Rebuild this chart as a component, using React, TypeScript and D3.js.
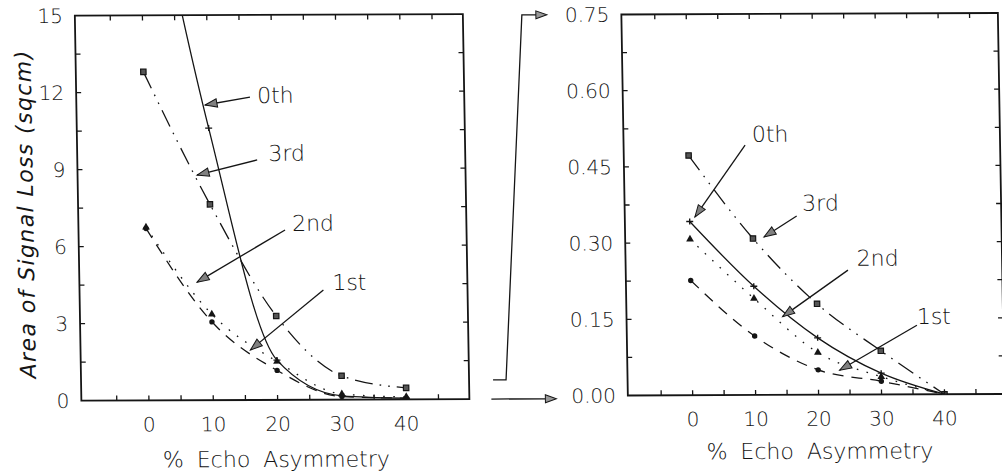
import React, { useEffect, useRef } from "react";
import * as d3 from "d3";

// % echo asymmetry at which every order was measured
const asymmetry = [0, 10, 20, 30, 40];

// left panel: area of signal loss (sqcm), full scale
const full0th = [23, 10.6, 1.55, 0.15, 0.05];
const full1st = [6.7, 3.05, 1.15, 0.12, 0.05];
const full2nd = [6.75, 3.35, 1.5, 0.22, 0.1];
const full3rd = [12.8, 7.63, 3.27, 0.93, 0.45];

// right panel: the 0 - 0.75 sqcm range blown up
const zoom0th = [0.342, 0.214, 0.112, 0.042, 0];
const zoom1st = [0.226, 0.116, 0.049, 0.026, 0];
const zoom2nd = [0.307, 0.19, 0.083, 0.035, 0];
const zoom3rd = [0.472, 0.308, 0.179, 0.086, 0];

const xTickLabels = [0, 10, 20, 30, 40];
const leftYLabels = [0, 3, 6, 9, 12, 15];
const rightYLabels = [0, 0.15, 0.3, 0.45, 0.6, 0.75];

// order labels with arrows, in data units of each panel
const leftNotes = [
  { label: "0th", tx: 17.6, ty: 11.88, x1: 16.5, y1: 11.8, x2: 9.5, y2: 11.5 },
  { label: "3rd", tx: 19.2, ty: 9.62, x1: 17.45, y1: 9.35, x2: 8.07, y2: 8.77 },
  { label: "2nd", tx: 22.7, ty: 6.89, x1: 21.6, y1: 6.62, x2: 7.8, y2: 4.6 },
  { label: "1st", tx: 28.8, ty: 4.58, x1: 27.4, y1: 4.27, x2: 15.9, y2: 1.95 },
];
const rightNotes = [
  { label: "0th", tx: 10.1, ty: 0.514, x1: 9.0, y1: 0.492, x2: 0.84, y2: 0.351 },
  { label: "3rd", tx: 17.9, ty: 0.378, x1: 17.0, y1: 0.352, x2: 11.75, y2: 0.311 },
  { label: "2nd", tx: 26.4, ty: 0.269, x1: 25.0, y1: 0.245, x2: 14.5, y2: 0.154 },
  { label: "1st", tx: 35.8, ty: 0.154, x1: 35.8, y1: 0.136, x2: 23.4, y2: 0.048 },
];

const ink = "#151515";
const FONT = "'DejaVu Sans', sans-serif";
const WEIGHT = 200;

const styles = {
  "0th": { dash: null, marker: "cross" },
  "1st": { dash: "11,8", marker: "circle" },
  "2nd": { dash: "1.6,8.5", marker: "triangle" },
  "3rd": { dash: "18,7,1.6,7,1.6,7", marker: "square" },
};

function arrowHead(x1, y1, x2, y2, len, hw) {
  const a = Math.atan2(y2 - y1, x2 - x1);
  const bx = x2 - len * Math.cos(a);
  const by = y2 - len * Math.sin(a);
  const px = -Math.sin(a) * hw;
  const py = Math.cos(a) * hw;
  return `M${x2},${y2}L${bx + px},${by + py}L${bx - px},${by - py}Z`;
}

function drawPanel(g, p) {
  const x = d3.scaleLinear().domain(p.xDomain).range([p.left, p.right]);
  const y = d3.scaleLinear().domain([0, p.yMax]).range([p.bottom, p.top]);

  g.append("clipPath")
    .attr("id", `clip-${p.id}`)
    .append("rect")
    .attr("x", p.left)
    .attr("y", p.top)
    .attr("width", p.right - p.left)
    .attr("height", p.bottom - p.top);

  // inward ticks on all four sides
  const tl = 5;
  const ticks = g.append("g").attr("stroke", ink).attr("stroke-width", 1.3);
  d3.range(-5, 46, 5).forEach((v) => {
    ticks.append("line").attr("x1", x(v)).attr("x2", x(v)).attr("y1", p.bottom).attr("y2", p.bottom - tl);
    ticks.append("line").attr("x1", x(v)).attr("x2", x(v)).attr("y1", p.top).attr("y2", p.top + tl);
  });
  d3.range(1, 10).forEach((i) => {
    const v = (i * p.yMax) / 10;
    ticks.append("line").attr("x1", p.left).attr("x2", p.left + tl).attr("y1", y(v)).attr("y2", y(v));
    ticks.append("line").attr("x1", p.right).attr("x2", p.right - tl).attr("y1", y(v)).attr("y2", y(v));
  });

  g.append("rect")
    .attr("x", p.left)
    .attr("y", p.top)
    .attr("width", p.right - p.left)
    .attr("height", p.bottom - p.top)
    .attr("fill", "none")
    .attr("stroke", ink)
    .attr("stroke-width", 1.8);

  // tick labels
  const txt = g.append("g").attr("font-family", FONT).attr("font-weight", WEIGHT).attr("fill", ink);
  p.yLabels.forEach((v) => {
    txt.append("text")
      .attr("x", p.left - 12)
      .attr("y", y(v))
      .attr("dy", "0.36em")
      .attr("text-anchor", "end")
      .attr("font-size", 20)
      .text(p.fmt(v));
  });
  xTickLabels.forEach((v) => {
    txt.append("text")
      .attr("x", x(v))
      .attr("y", p.bottom + 31)
      .attr("text-anchor", "middle")
      .attr("font-size", 20)
      .text(v);
  });
  txt.append("text")
    .attr("x", (p.left + p.right) / 2 + p.titleShift)
    .attr("y", p.bottom + p.titleGap)
    .attr("text-anchor", "middle")
    .attr("font-size", 22)
    .attr("word-spacing", 6)
    .text("% Echo Asymmetry");

  // fitted curves and points
  const plot = g.append("g").attr("clip-path", `url(#clip-${p.id})`);
  const line = d3
    .line()
    .x((d, i) => x(asymmetry[i]))
    .y((d) => y(d))
    .curve(d3.curveMonotoneX);

  p.series.forEach((s) => {
    const st = styles[s.name];
    plot.append("path")
      .datum(s.values)
      .attr("fill", "none")
      .attr("stroke", ink)
      .attr("stroke-width", 1.3)
      .attr("stroke-dasharray", st.dash)
      .attr("d", line);

    s.values.forEach((v, i) => {
      const cx = x(asymmetry[i]);
      const cy = y(v);
      if (st.marker === "square") {
        plot.append("rect").attr("x", cx - 2.7).attr("y", cy - 2.7).attr("width", 5.4).attr("height", 5.4)
          .attr("fill", "#555").attr("stroke", ink).attr("stroke-width", 1.2);
      } else if (st.marker === "circle") {
        plot.append("circle").attr("cx", cx).attr("cy", cy).attr("r", 2.7).attr("fill", ink);
      } else if (st.marker === "triangle") {
        plot.append("path")
          .attr("transform", `translate(${cx},${cy})`)
          .attr("d", d3.symbol(d3.symbolTriangle, 26)())
          .attr("fill", ink);
      } else {
        plot.append("path")
          .attr("d", `M${cx - 3.5},${cy}H${cx + 3.5}M${cx},${cy - 3}V${cy + 3}`)
          .attr("stroke", ink)
          .attr("stroke-width", 1.4);
      }
    });
  });

  // order labels
  p.notes.forEach((n) => {
    const ax1 = x(n.x1), ay1 = y(n.y1), ax2 = x(n.x2), ay2 = y(n.y2);
    g.append("line")
      .attr("x1", ax1).attr("y1", ay1).attr("x2", ax2).attr("y2", ay2)
      .attr("stroke", ink).attr("stroke-width", 1.3);
    g.append("path")
      .attr("d", arrowHead(ax1, ay1, ax2, ay2, 12, 4.2))
      .attr("fill", "#808080")
      .attr("stroke", ink)
      .attr("stroke-width", 1);
    g.append("text")
      .attr("x", x(n.tx))
      .attr("y", y(n.ty))
      .attr("dy", "0.36em")
      .attr("font-family", FONT)
      .attr("font-weight", WEIGHT)
      .attr("font-size", 22)
      .attr("fill", ink)
      .text(n.label);
  });

  return { x, y };
}

const EchoChart = () => {
  const svgRef = useRef(null);

  useEffect(() => {
    const svg = d3.select(svgRef.current);
    svg.selectAll("*").remove();
    svg.attr("width", 1002).attr("height", 474);

    // the scanned figure sits slightly askew
    const g = svg.append("g").attr("transform", "matrix(1,-0.004,0.017,1,-3.4,2)");

    const L = drawPanel(g, {
      id: "full",
      left: 78, right: 466, top: 14, bottom: 399,
      xDomain: [-10.5, 49.8],
      yMax: 15,
      yLabels: leftYLabels,
      fmt: d3.format("d"),
      titleShift: 0,
      titleGap: 67,
      notes: leftNotes,
      series: [
        { name: "1st", values: full1st },
        { name: "2nd", values: full2nd },
        { name: "3rd", values: full3rd },
        { name: "0th", values: full0th },
      ],
    });

    const R = drawPanel(g, {
      id: "zoom",
      left: 624.5, right: 1001, top: 15, bottom: 396,
      xDomain: [-10.3, 49.5],
      yMax: 0.75,
      yLabels: rightYLabels,
      fmt: d3.format(".2f"),
      titleShift: 3,
      titleGap: 64,
      notes: rightNotes,
      series: [
        { name: "1st", values: zoom1st },
        { name: "2nd", values: zoom2nd },
        { name: "3rd", values: zoom3rd },
        { name: "0th", values: zoom0th },
      ],
    });

    // bracket tying the 0 - 0.75 band of the left axis to the right panel
    const yTopL = L.y(0.75);
    const yTopR = R.y(0.75);
    const yZero = L.y(0);
    const conn = g.append("g").attr("stroke", ink).attr("stroke-width", 1.3).attr("fill", "none");
    conn.append("path").attr("d", `M490,${yTopL}H503L525,${yTopR}H540`);
    conn.append("path").attr("d", `M488,${yZero}H542`);
    g.append("path").attr("d", arrowHead(520, yTopR, 550, yTopR, 11, 4)).attr("fill", "#999").attr("stroke", ink);
    g.append("path").attr("d", arrowHead(520, yZero, 553, yZero, 11, 4)).attr("fill", "#999").attr("stroke", ink);

    // y axis title
    g.append("text")
      .attr("transform", `translate(33,212) rotate(-90)`)
      .attr("text-anchor", "middle")
      .attr("font-family", FONT)
      .attr("font-weight", WEIGHT)
      .attr("font-style", "italic")
      .attr("font-size", 22)
      .attr("letter-spacing", 1.4)
      .attr("fill", ink)
      .text("Area of Signal Loss (sqcm)");
  }, []);

  return <svg ref={svgRef} style={{ position: "absolute", left: 0, top: 0 }}></svg>;
};

export default function App() {
  return <EchoChart />;
}
